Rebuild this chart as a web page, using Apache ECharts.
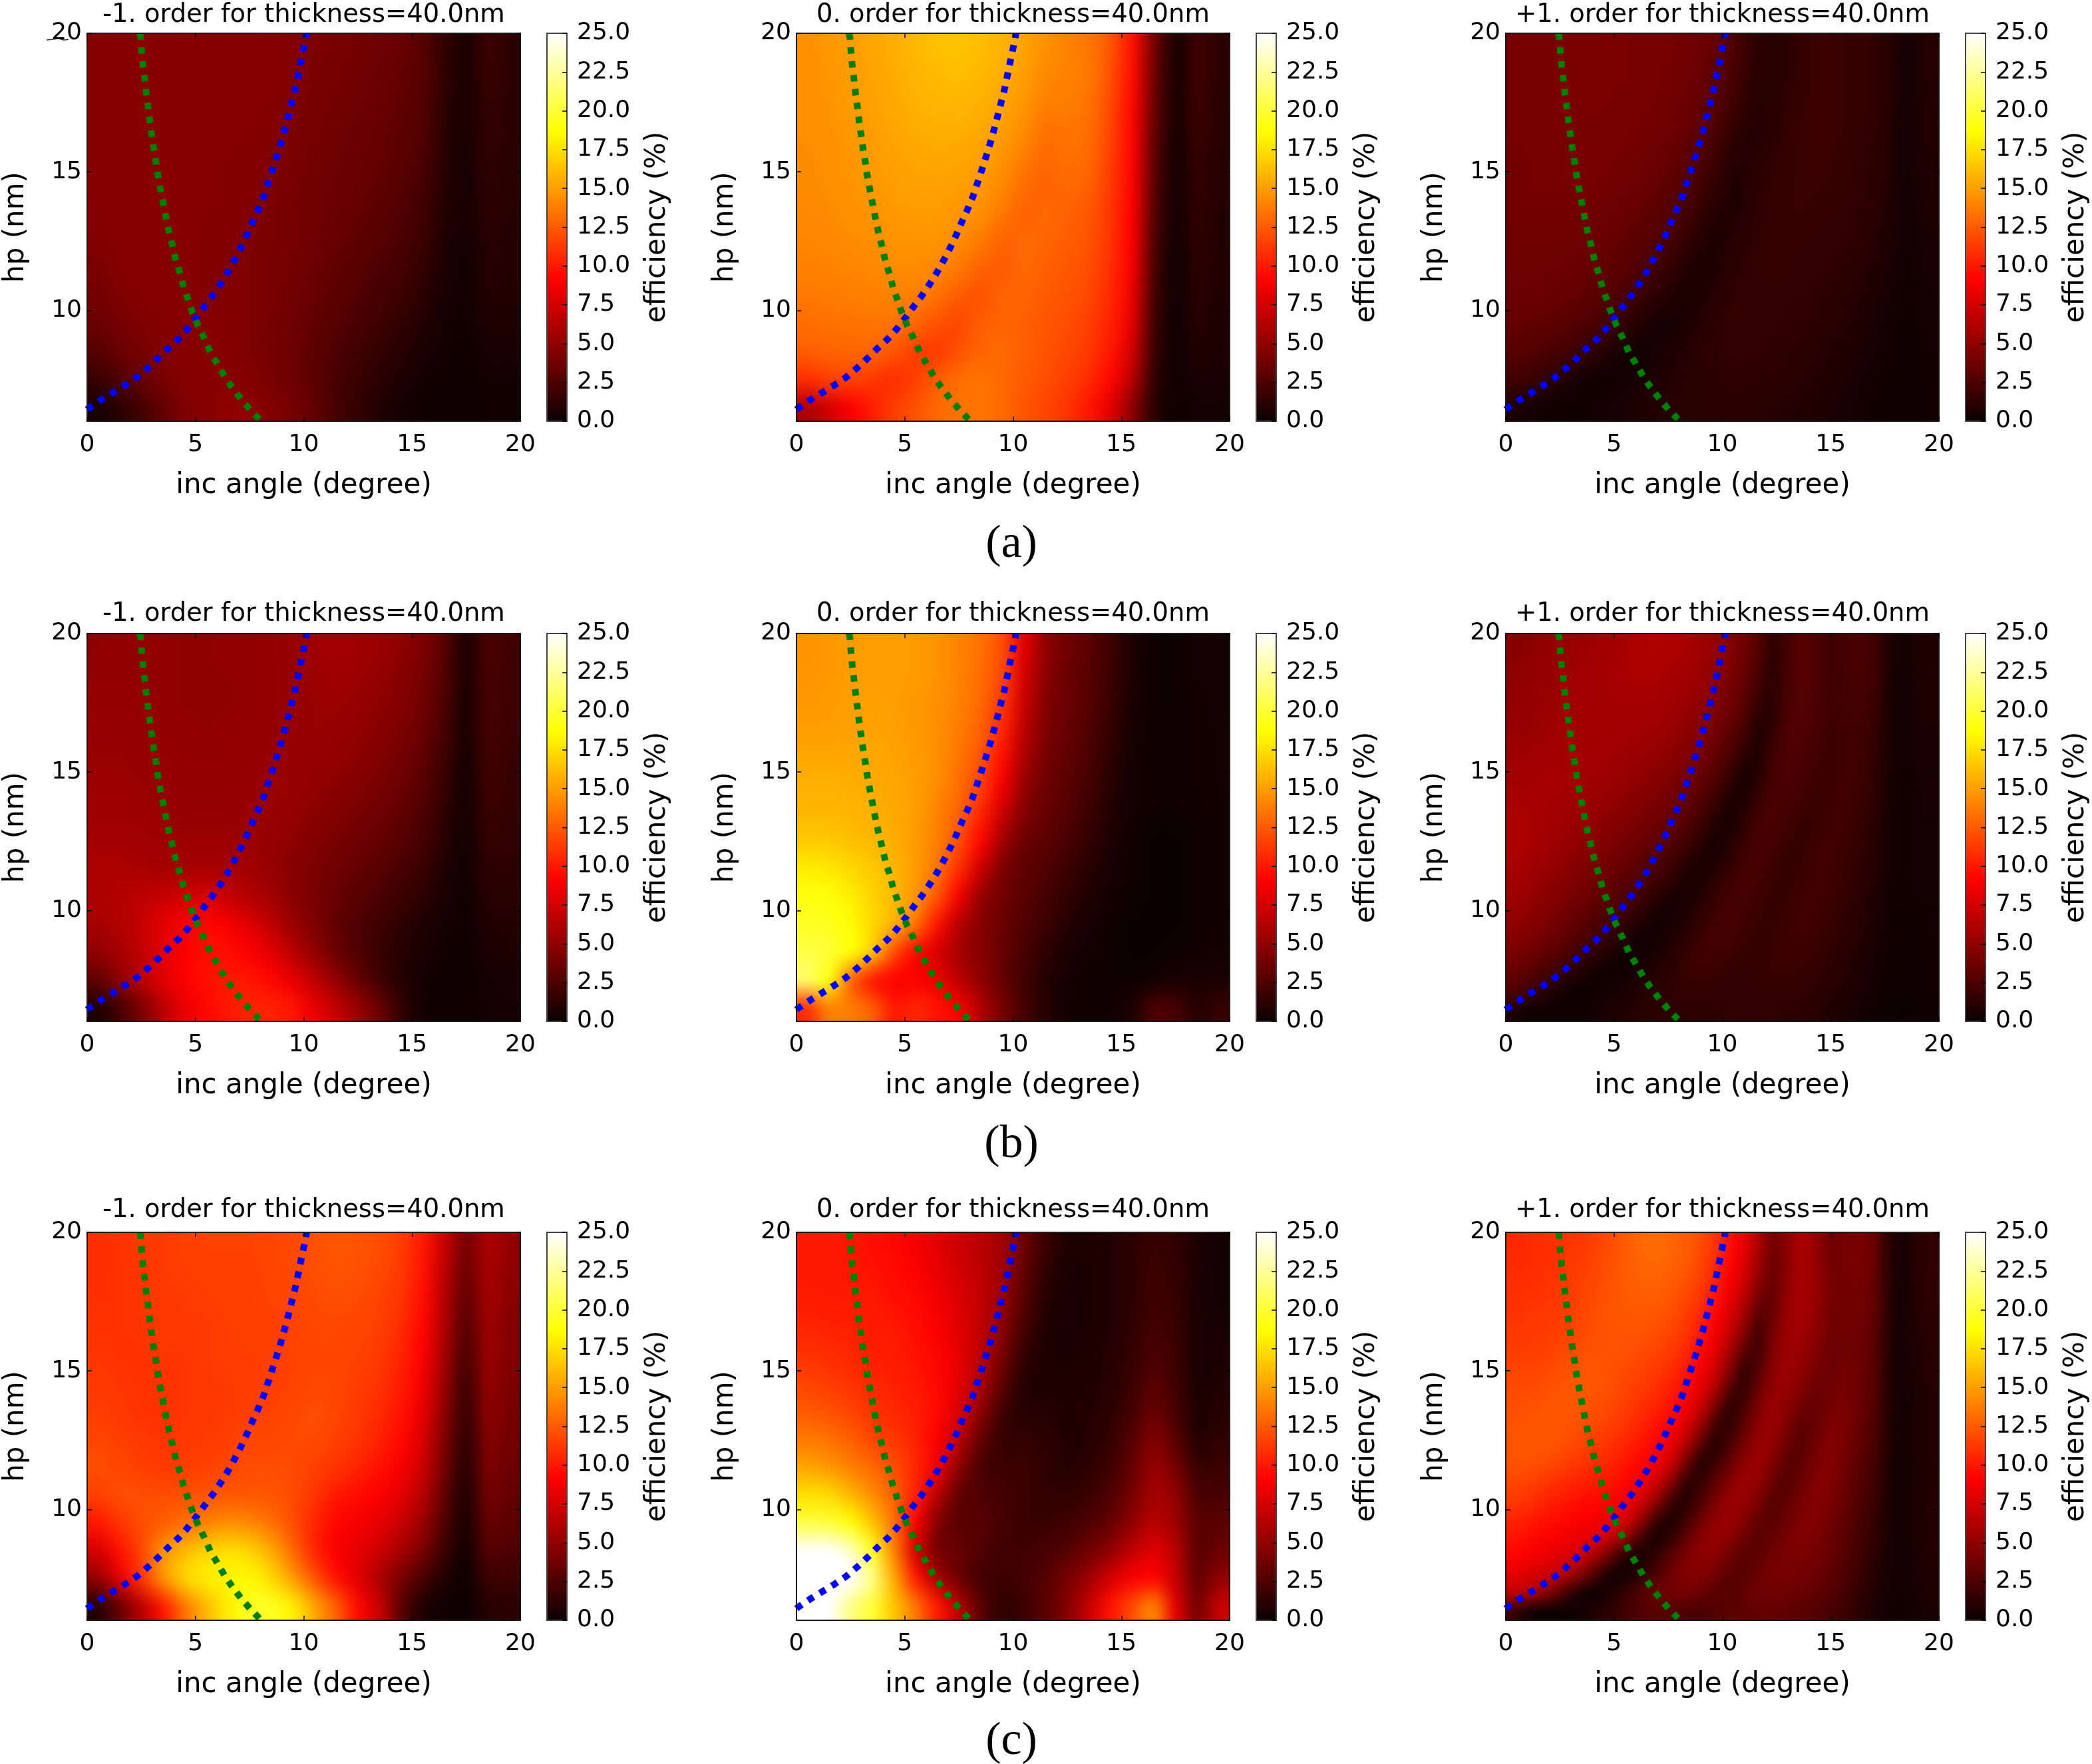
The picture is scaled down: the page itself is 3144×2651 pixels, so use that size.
<!DOCTYPE html>
<html><head><meta charset="utf-8">
<style>html,body{margin:0;padding:0;background:#fff}#c{width:3144px;height:2651px}</style>
<script src="https://cdn.jsdelivr.net/npm/echarts@6/dist/echarts.min.js"></script>
</head><body><div id="c"></div>
<script>
const angleCells=[0.5,1.5,2.5,3.5,4.5,5.5,6.5,7.5,8.5,9.5,10.5,11.5,12.5,13.5,14.5,15.5,16.5,17.5,18.5,19.5];
const hpCells=[19.5,18.5,17.5,16.5,15.5,14.5,13.5,12.5,11.5,10.5,9.5,8.5,7.5,6.5];
const fineAngleCells=[0.33,1,1.67,2.33,3,3.67,4.33,5,5.67,6.33,7,7.67,8.33,9,9.67,10.33,11,11.67,12.33,13,13.67,14.33,15,15.67,16.33,17,17.67,18.33,19,19.67];
const fineHpCells=[19.67,19,18.33,17.67,17,16.33,15.67,15,14.33,13.67,13,12.33,11.67,11,10.33,9.67,9,8.33,7.67,7,6.33];
const angleTicks=[0,5,10,15,20];
const hpTicks=[10,15,20];
const efficiencyTicks=[0,2.5,5,7.5,10,12.5,15,17.5,20,22.5,25];
const panelTitles=['-1. order for thickness=40.0nm','0. order for thickness=40.0nm','+1. order for thickness=40.0nm'];
const captions=['(a)','(b)','(c)'];
const blueAngle=[0,0.07,0.66,1.25,1.77,2.3,2.8,3.28,3.74,4.22,4.63,5.05,5.44,5.81,6.17,6.52,6.82,7.13,7.41,7.65,7.91,8.15,8.37,8.57,8.77,8.96,9.13,9.3,9.46,9.62,9.75,9.88,10.01,10.14];
const blueHp=[6.42,6.47,6.78,7.06,7.31,7.59,7.92,8.27,8.63,8.97,9.33,9.75,10.17,10.55,10.97,11.41,11.84,12.31,12.78,13.22,13.66,14.11,14.63,15.1,15.59,16.07,16.55,17.05,17.54,18.03,18.52,19.01,19.5,20];
const greenAngle=[2.43,2.47,2.52,2.58,2.66,2.73,2.82,2.9,2.99,3.08,3.19,3.28,3.4,3.52,3.65,3.79,3.95,4.1,4.28,4.46,4.67,4.88,5.13,5.42,5.68,6,6.34,6.69,7.1,7.52,7.97,8];
const greenHp=[20,19.84,19.32,18.8,18.32,17.82,17.3,16.79,16.29,15.8,15.3,14.8,14.3,13.83,13.32,12.8,12.31,11.8,11.35,10.83,10.36,9.89,9.42,8.97,8.5,8.08,7.62,7.22,6.8,6.42,6.05,6];

const minusA=[
[4.6,4.7,4.7,4.7,4.7,4.7,4.7,4.7,4.6,4.5,4.3,4.1,3.9,3.7,3.4,2.9,1.5,0.6,1.8,1.3],
[4.6,4.7,4.7,4.7,4.7,4.7,4.7,4.6,4.6,4.4,4.2,4.0,3.8,3.6,3.3,2.8,1.4,0.6,1.7,1.3],
[4.6,4.7,4.7,4.7,4.7,4.7,4.6,4.6,4.5,4.3,4.1,3.9,3.7,3.5,3.2,2.7,1.3,0.6,1.6,1.2],
[4.6,4.7,4.7,4.7,4.7,4.6,4.6,4.5,4.4,4.2,4.0,3.8,3.6,3.4,3.1,2.6,1.2,0.6,1.5,1.2],
[4.6,4.7,4.7,4.7,4.7,4.6,4.5,4.4,4.3,4.2,3.9,3.7,3.5,3.3,3.0,2.4,1.1,0.5,1.4,1.1],
[4.6,4.7,4.7,4.7,4.6,4.6,4.5,4.4,4.3,4.1,3.8,3.6,3.4,3.2,2.8,2.2,1.0,0.5,1.3,1.1],
[4.5,4.7,4.7,4.7,4.6,4.5,4.5,4.4,4.2,4.0,3.8,3.5,3.3,3.0,2.6,2.0,0.9,0.5,1.2,1.0],
[4.4,4.6,4.7,4.7,4.6,4.5,4.4,4.3,4.2,4.0,3.7,3.4,3.1,2.8,2.4,1.8,0.8,0.4,1.1,0.9],
[4.2,4.5,4.6,4.7,4.6,4.5,4.4,4.3,4.1,3.9,3.6,3.2,2.9,2.5,2.1,1.5,0.7,0.3,1.0,0.9],
[3.9,4.3,4.5,4.6,4.6,4.5,4.4,4.3,4.1,3.8,3.4,3.0,2.6,2.2,1.8,1.2,0.5,0.3,0.9,0.8],
[3.5,4.0,4.3,4.5,4.6,4.6,4.5,4.3,4.0,3.7,3.2,2.8,2.3,1.9,1.4,0.9,0.4,0.2,0.7,0.7],
[2.8,3.5,4.0,4.4,4.6,4.7,4.5,4.3,4.0,3.6,3.1,2.5,2.0,1.5,1.1,0.6,0.3,0.1,0.5,0.5],
[1.7,2.6,3.4,4.1,4.6,4.8,4.7,4.5,4.1,3.6,3.0,2.3,1.7,1.2,0.7,0.3,0.1,0.1,0.3,0.3],
[0.5,1.2,2.2,3.3,4.3,4.7,4.9,4.9,4.5,4.0,3.2,2.3,1.5,0.9,0.4,0.2,0.1,0.1,0.2,0.2]];
const zeroA=[
[14.5,14.8,15,15.3,15.6,16,16.3,16.4,16.2,15.8,15.2,14.5,14,13.5,12.3,9.8,4,0.6,1.9,1.2],
[14.5,14.7,15,15.2,15.5,15.9,16.1,16.2,16,15.6,15,14.2,14,13.6,12.1,9.6,3.8,0.6,1.9,1.2],
[14.4,14.6,14.9,15.1,15.4,15.7,15.9,15.9,15.7,15.3,14.7,13.9,13.8,13.4,11.9,9.4,3.6,0.5,1.8,1.1],
[14.4,14.5,14.8,15,15.3,15.5,15.6,15.6,15.4,15,14.3,13.4,13.5,13.2,11.7,9.3,3.4,0.5,1.7,1.1],
[14.3,14.5,14.7,14.9,15.1,15.3,15.4,15.3,15.1,14.6,13.8,13,13.3,13,11.5,9.2,3.2,0.4,1.6,1],
[14.3,14.4,14.6,14.8,15,15.1,15.1,15,14.8,14.2,13.2,12.8,13,12.7,11.3,9.1,3,0.4,1.5,1],
[14.2,14.3,14.5,14.6,14.8,14.9,14.9,14.7,14.4,13.6,12.8,13,12.8,12.4,11.1,9,2.8,0.4,1.4,0.9],
[14.1,14.2,14.3,14.4,14.6,14.6,14.6,14.3,13.7,12.8,13,12.9,12.6,12.2,11,8.9,2.6,0.3,1.3,0.9],
[13.9,14,14.1,14.2,14.3,14.3,14.1,13.6,12.7,12.6,13,12.7,12.4,12,10.8,8.7,2.4,0.3,1.2,0.8],
[13.6,13.7,13.8,13.9,14,13.8,13.3,12.5,12.2,12.8,12.9,12.5,12.2,11.8,10.6,8.4,2.2,0.3,1.1,0.8],
[13.2,13.3,13.4,13.5,13.4,12.9,12.1,11.8,12.6,12.9,12.7,12.3,12,11.5,10.3,8,2,0.2,1,0.7],
[12.6,12.8,12.9,12.8,12.3,11.5,11.3,12.2,12.9,13,12.7,12.2,11.8,11.2,9.9,7.4,1.8,0.2,0.8,0.6],
[10.8,11.4,11.6,11.2,10.8,11.5,12.6,13.2,13.4,13,12.5,12,11.5,10.7,9.3,6.4,1.5,0.2,0.6,0.5],
[6,7.5,9,10.2,11.4,12.2,13,13.4,13.5,13,12.3,11.7,11,9.9,8,4.8,1.2,0.1,0.4,0.4]];
const plusA=[
[4,4.1,4.2,4.2,4.2,4.2,4.1,4,3.8,3.4,2.5,1.3,1,1.5,1.8,1.7,1.6,1.2,0.4,1],
[4,4.1,4.2,4.2,4.2,4.2,4.1,3.9,3.7,3.2,2.3,1.2,1,1.5,1.8,1.7,1.6,1.2,0.4,1],
[4,4.1,4.2,4.2,4.2,4.1,4,3.8,3.5,3,1.9,1,1.2,1.6,1.8,1.7,1.6,1.2,0.4,0.9],
[4,4.1,4.1,4.1,4.1,4,3.9,3.7,3.3,2.6,1.5,0.9,1.3,1.7,1.8,1.7,1.5,1.1,0.4,0.9],
[3.9,4,4.1,4.1,4,3.9,3.7,3.4,2.9,2.1,1.1,1,1.5,1.7,1.8,1.6,1.5,1,0.4,0.8],
[3.9,4,4,4,3.9,3.7,3.5,3.1,2.5,1.6,0.8,1.2,1.6,1.7,1.7,1.6,1.4,1,0.3,0.8],
[3.9,3.9,3.9,3.8,3.7,3.5,3.2,2.7,2,1.1,0.8,1.3,1.6,1.7,1.6,1.5,1.3,0.9,0.3,0.7],
[3.8,3.8,3.8,3.7,3.5,3.2,2.8,2.3,1.4,0.7,1,1.4,1.6,1.6,1.5,1.4,1.2,0.8,0.3,0.6],
[3.7,3.7,3.6,3.5,3.2,2.9,2.3,1.6,0.8,0.7,1.2,1.5,1.6,1.5,1.4,1.3,1,0.7,0.2,0.5],
[3.6,3.5,3.4,3.2,2.8,2.3,1.6,0.9,0.6,1,1.4,1.5,1.5,1.4,1.3,1.1,0.9,0.5,0.2,0.4],
[3.3,3.2,3,2.6,2.1,1.4,0.7,0.4,0.8,1.2,1.4,1.5,1.4,1.3,1.2,1,0.7,0.4,0.1,0.4],
[2.9,2.6,2.2,1.7,1,0.4,0.3,0.7,1,1.3,1.4,1.4,1.3,1.2,1,0.8,0.6,0.3,0.1,0.3],
[2,1.6,1,0.4,0.2,0.3,0.6,0.9,1.1,1.2,1.3,1.3,1.2,1.1,0.9,0.7,0.4,0.2,0.1,0.2],
[0.6,0.3,0.1,0.2,0.4,0.6,0.8,1,1.1,1.2,1.2,1.1,1,0.9,0.7,0.5,0.3,0.1,0.1,0.2]];
const minusB=[
[4.9,5,5,5,4.9,4.9,5,5,5.1,5.3,5.5,5.6,5.5,5.3,4.9,4.2,2.9,0.7,2.4,2],
[5,5,5,5,4.9,4.9,4.9,5,5.1,5.2,5.4,5.5,5.4,5.1,4.7,4,2.7,0.7,2.3,1.9],
[5.1,5.1,5.1,5,4.9,4.9,4.9,5,5.1,5.2,5.3,5.4,5.2,4.9,4.5,3.8,2.5,0.6,2.2,1.9],
[5.2,5.2,5.1,5,5,4.9,5,5,5.1,5.2,5.3,5.2,5,4.7,4.2,3.5,2.2,0.6,2.1,1.8],
[5.3,5.3,5.2,5.1,5,5,5,5.1,5.2,5.2,5.2,5,4.8,4.4,3.9,3.2,1.9,0.5,2,1.7],
[5.4,5.4,5.3,5.2,5.1,5.1,5.1,5.2,5.3,5.3,5,4.8,4.5,4.1,3.6,2.9,1.6,0.4,1.9,1.6],
[5.5,5.5,5.4,5.3,5.2,5.2,5.2,5.3,5.3,5.1,4.8,4.5,4.1,3.7,3.2,2.5,1.3,0.4,1.7,1.5],
[5.7,5.7,5.6,5.5,5.4,5.4,5.4,5.4,5.2,4.9,4.5,4.1,3.7,3.3,2.8,2.1,1.1,0.3,1.5,1.4],
[6,6,5.9,5.8,5.8,5.9,5.8,5.6,5.2,4.7,4.2,3.7,3.3,2.9,2.3,1.7,0.8,0.3,1.3,1.2],
[6,6.3,6.6,7,7.4,7.6,7,6.3,5.6,4.8,4.1,3.4,2.9,2.4,1.8,1.2,0.6,0.2,1.1,1.1],
[5.8,6.2,7,8.1,8.9,9.3,8.8,7.9,6.7,5.3,4.3,3.3,2.5,1.9,1.3,0.8,0.4,0.2,0.8,0.9],
[5,5.8,6.8,8,9,9.6,9.6,9,8,6.5,5,3.6,2.6,1.7,1,0.6,0.2,0.1,0.6,0.7],
[3.2,4.8,6.5,8,9,9.7,10,9.9,9.3,8.2,6.6,5,3.4,2,1,0.4,0.1,0.1,0.4,0.5],
[0.8,2.2,4.2,6.5,8.3,9.3,10,10.4,10.4,9.8,8.3,6.8,5.3,3.5,1.5,0.3,0.1,0.1,0.3,0.4]];
const zeroB=[
[14.6,14.8,14.9,15,15,14.9,14.6,14,13.3,12,8,5,3.8,3,1.9,0.7,0.1,0.1,0.3,0.4],
[14.7,14.8,15,15,15,14.9,14.6,14,13.2,11.7,7.6,4.8,3.6,2.9,1.8,0.7,0.1,0.1,0.3,0.4],
[14.8,14.9,15,15.1,15,14.8,14.5,13.9,13,11.2,7.2,4.5,3.5,2.8,1.7,0.6,0.1,0.1,0.2,0.4],
[15,15,15.1,15.2,15.1,14.8,14.4,13.7,12.7,10.5,6.6,4.3,3.4,2.6,1.5,0.5,0.1,0.1,0.2,0.3],
[15.4,15.4,15.4,15.3,15.2,14.9,14.4,13.5,12.2,9.6,6,4,3.2,2.4,1.3,0.4,0.1,0.1,0.2,0.3],
[15.7,15.7,15.6,15.5,15.3,15,14.3,13.2,11.5,8.6,5.2,3.7,3,2.1,1.1,0.3,0.1,0.1,0.2,0.3],
[16,16,15.9,15.7,15.4,15,14,12.7,10.5,7.2,4.4,3.4,2.7,1.8,0.9,0.3,0.1,0.1,0.1,0.2],
[16.7,16.6,16.3,16,15.6,14.9,13.8,12,9.3,5.6,3.6,3.1,2.3,1.5,0.7,0.2,0,0,0.1,0.2],
[18,17.8,17.2,16.6,15.9,14.9,13.4,10.8,7.2,4.2,3.2,2.6,1.8,1.1,0.5,0.1,0,0,0.1,0.2],
[19,18.8,18.1,17,16,14.6,12.3,8.8,5.2,3.8,3,2.2,1.4,0.8,0.3,0.1,0,0,0.1,0.2],
[19.6,19.4,18.6,17.2,15.7,13.4,9.8,6.4,4.6,3.6,2.6,1.8,1,0.5,0.2,0,0,0,0.1,0.2],
[20.4,20,18.8,16.5,12,9.5,7.6,5.8,4.6,3.4,2.3,1.3,0.6,0.3,0.1,0,0,0.1,0.2,0.3],
[21.3,19,13,10,9.2,9,8.4,6.6,5,3.4,2,1,0.4,0.1,0.1,0.1,0.3,0.6,0.6,0.6],
[11,14,13.7,12.6,10,10.5,9.8,8.8,6.2,4,2.2,1,0.3,0.1,0.2,0.7,2.4,2.2,1,1.6]];
const plusB=[
[4.7,4.8,5,5.1,5.3,5.4,5.6,5.7,5.9,6,6.1,6,5.9,5.6,5.2,4.6,3.8,2.8,1.4,2.1,2.8,2.6,2,2.2,2.4,2,0.9,0.3,0.7,0.8],
[4.8,4.9,5.1,5.2,5.4,5.5,5.7,5.8,5.9,6,6,5.9,5.8,5.5,5,4.4,3.6,2.6,1.3,2.1,2.8,2.6,2,2.2,2.4,2,0.9,0.3,0.7,0.8],
[4.9,5,5.2,5.3,5.5,5.6,5.7,5.8,5.9,5.9,5.9,5.8,5.6,5.3,4.8,4.2,3.4,2.2,1.2,2.2,2.8,2.6,2,2.1,2.3,1.9,0.8,0.3,0.6,0.8],
[5,5.1,5.3,5.4,5.5,5.6,5.7,5.8,5.8,5.8,5.8,5.6,5.4,5,4.5,3.9,3,1.8,1.3,2.3,2.7,2.5,2,2.1,2.2,1.8,0.8,0.3,0.6,0.7],
[5.1,5.2,5.3,5.5,5.6,5.7,5.7,5.7,5.7,5.7,5.6,5.4,5.1,4.7,4.2,3.5,2.6,1.3,1.3,2.4,2.7,2.4,1.9,2,2.1,1.7,0.7,0.3,0.6,0.7],
[5.3,5.3,5.4,5.6,5.7,5.7,5.7,5.7,5.6,5.5,5.4,5.2,4.8,4.4,3.8,3,2,0.9,1.6,2.5,2.6,2.3,1.8,2,2,1.6,0.7,0.3,0.5,0.6],
[5.4,5.5,5.6,5.7,5.7,5.7,5.6,5.5,5.4,5.3,5.1,4.8,4.5,4,3.3,2.5,1.4,0.8,1.9,2.5,2.5,2.1,1.8,2,1.9,1.5,0.7,0.3,0.5,0.6],
[5.6,5.7,5.8,5.8,5.7,5.6,5.5,5.4,5.2,5,4.8,4.4,4,3.5,2.8,1.8,0.7,1,2.1,2.5,2.3,1.9,1.8,2,1.9,1.4,0.6,0.2,0.5,0.5],
[5.8,5.8,5.8,5.8,5.7,5.5,5.4,5.2,5,4.7,4.4,4,3.6,3,2.2,1.1,0.6,1.5,2.3,2.4,2.1,1.7,1.8,2,1.8,1.4,0.6,0.2,0.4,0.5],
[5.9,5.9,5.8,5.7,5.5,5.3,5.1,4.9,4.6,4.3,4,3.6,3.1,2.4,1.5,0.6,1,1.9,2.4,2.2,1.8,1.7,1.9,2,1.7,1.3,0.6,0.2,0.4,0.5],
[6,5.9,5.8,5.6,5.3,5.1,4.8,4.5,4.2,3.9,3.5,3.1,2.6,1.8,0.9,0.6,1.4,2.2,2.3,2,1.6,1.7,1.9,1.9,1.6,1.2,0.5,0.2,0.4,0.4],
[6,5.9,5.7,5.4,5.1,4.8,4.5,4.2,3.8,3.4,3,2.6,1.9,1.1,0.5,1,1.8,2.3,2.2,1.7,1.6,1.9,2,1.8,1.5,1.1,0.5,0.2,0.4,0.4],
[5.9,5.7,5.4,5.1,4.8,4.4,4.1,3.7,3.3,2.9,2.5,1.9,1.1,0.6,0.8,1.5,2.1,2.3,1.9,1.5,1.7,2,2,1.7,1.4,1,0.5,0.2,0.3,0.4],
[5.7,5.5,5.1,4.8,4.4,4,3.6,3.2,2.8,2.4,1.8,1.2,0.6,0.7,1.3,1.9,2.3,2.1,1.7,1.6,1.8,2,1.9,1.6,1.3,0.9,0.4,0.2,0.3,0.3],
[5.4,5.2,4.8,4.4,4,3.6,3.1,2.7,2.3,1.7,1,0.5,0.6,1.1,1.7,2.2,2.2,1.9,1.6,1.7,2,2,1.8,1.5,1.2,0.8,0.4,0.2,0.3,0.3],
[5.1,4.8,4.4,4,3.5,3,2.5,2.1,1.5,0.9,0.4,0.5,0.9,1.5,2,2.3,2,1.7,1.6,1.8,2,1.9,1.7,1.4,1.1,0.7,0.3,0.1,0.2,0.3],
[4.6,4.3,3.9,3.4,2.9,2.4,1.9,1.3,0.7,0.3,0.4,0.8,1.3,1.8,2.2,2.1,1.8,1.6,1.7,1.9,1.9,1.8,1.5,1.3,1,0.6,0.3,0.1,0.2,0.3],
[4.1,3.7,3.2,2.7,2.1,1.5,1,0.5,0.2,0.4,0.7,1.1,1.6,2,2,1.8,1.6,1.6,1.7,1.8,1.8,1.6,1.4,1.1,0.8,0.5,0.2,0.1,0.2,0.2],
[3.3,2.9,2.3,1.7,1.1,0.6,0.2,0.2,0.4,0.7,1,1.3,1.7,1.8,1.7,1.5,1.5,1.6,1.7,1.7,1.6,1.5,1.2,1,0.7,0.4,0.2,0.1,0.1,0.2],
[2.4,1.8,1.2,0.6,0.2,0.1,0.2,0.5,0.7,1,1.2,1.4,1.5,1.5,1.4,1.4,1.5,1.5,1.5,1.5,1.4,1.3,1,0.8,0.6,0.3,0.1,0.1,0.1,0.2],
[0.7,0.2,0.1,0.1,0.1,0.2,0.5,0.7,0.9,1.1,1.2,1.3,1.3,1.3,1.3,1.4,1.4,1.4,1.4,1.3,1.2,1,0.8,0.6,0.4,0.2,0.1,0,0.1,0.1]];
const minusC=[
[10.8,11,11.2,11.3,11.5,11.6,11.6,11.6,11.7,11.9,12.1,12.3,12.2,12,11.4,10,7,4,6,5],
[10.8,11,11.1,11.3,11.4,11.5,11.5,11.5,11.7,11.8,12,12.2,12.1,11.8,11.2,9.8,6.6,3.6,5.8,4.9],
[10.9,11,11.1,11.2,11.3,11.4,11.5,11.5,11.6,11.7,11.9,12,11.9,11.6,11,9.6,6.3,3.2,5.6,4.7],
[11,11,11.1,11.2,11.2,11.3,11.4,11.5,11.5,11.6,11.8,11.8,11.7,11.5,10.7,9.3,6,2.8,5.4,4.5],
[11.1,11,11,11.1,11.1,11.3,11.4,11.4,11.5,11.6,11.7,11.7,11.6,11.2,10.4,9,5.6,2.4,5.2,4.4],
[11.2,11.1,11,11,11.1,11.2,11.3,11.4,11.5,11.6,11.8,11.7,11.4,11,10.1,8.6,5.2,2,5,4.2],
[11.4,11.2,11,11,11.1,11.2,11.3,11.5,11.6,11.8,12,11.7,11.2,10.7,9.8,8.2,4.8,1.7,4.8,4],
[11.7,11.5,11.2,11.1,11.2,11.3,11.5,11.7,11.8,11.9,11.9,11.5,11,10.3,9.4,7.7,4.3,1.4,4.5,3.8],
[12,11.8,11.5,11.3,11.4,11.6,11.8,12,12,11.9,11.5,11,10.4,9.7,8.8,7.1,3.8,1.1,4.2,3.6],
[11.5,12,12,12,12.1,12.3,12.4,12.4,12.3,11.9,11,10,9.5,9,8,6.3,3.2,0.8,3.8,3.3],
[10,11,12,12.6,13.3,14,14.5,14.2,13.4,12,10.5,9.3,8.8,8.2,7,5.3,2.5,0.6,3.3,3],
[7.5,9.8,11.7,14.5,16,17,17.5,17,15.5,13,10.5,9,8.2,7.2,5.7,4,1.8,0.3,2.7,2.5],
[5,8,11,14.5,17,18,18.2,18.5,17.3,15,12.3,9.8,8,6,4,2.3,0.8,0.1,1.8,1.8],
[1,3.5,6.5,10,13.5,16,18,19.5,19.5,18,15.3,12.6,9.5,7,3,0.8,0.2,0.1,1,1.2]];
const zeroC=[
[10,10,9.9,9.6,9.3,8.8,8,7.2,6.5,5.6,3.6,1.8,0.7,0.7,0.9,1.3,1.7,1.4,0.7,0.4],
[10,10,10,9.8,9.5,9.1,8.4,7.5,6.7,5.5,3.2,1.4,0.6,0.6,0.9,1.3,1.8,1.5,0.6,0.4],
[10.2,10.1,10.1,10,9.7,9.4,8.7,7.8,6.8,5.2,2.8,1,0.5,0.6,0.9,1.3,1.9,1.6,0.6,0.4],
[10.5,10.4,10.3,10.1,10,9.6,9,8,6.8,4.7,2.2,0.8,0.5,0.6,0.9,1.4,2.1,1.7,0.6,0.5],
[11,10.8,10.6,10.3,10.1,9.8,9.2,8.2,6.5,4,1.5,0.7,0.6,0.7,1,1.6,2.4,1.8,0.6,0.6],
[11.7,11.4,11,10.6,10.3,10,9.4,8.1,6,3,1,0.7,0.7,0.8,1.1,1.8,2.9,2,0.6,0.8],
[12.5,12.2,11.7,11,10.6,10.2,9.4,7.6,4.8,2,1,1,0.8,0.9,1.3,2.2,3.5,2.3,0.7,1],
[13.7,13.4,12.7,11.8,11.2,10.3,9,6.6,3.3,1.6,1.5,1.3,0.8,1,1.6,2.8,4.4,3,1,1.4],
[15.3,14.8,14,13,12,10.6,8.5,4.8,2.4,1.8,1.8,1.3,1,1.3,2,3.4,5.2,4,1.7,1.8],
[17.5,17.3,16,14.4,12.8,10.2,6.5,3.2,2.6,2.2,1.8,1.5,1.4,1.8,2.6,4,5.8,5,2.5,2.3],
[20.5,20.2,19,16.5,13.3,9,4.4,3,2.8,2.2,1.7,1.7,2,2.6,3.4,5,6.5,5.5,3,3],
[25,25,23.5,19.6,14,7.5,4,3.4,2.6,2,1.9,2.3,2.8,3.8,5,6.8,8,6.5,3,3.6],
[25,25,25,22,15.5,10.2,6,3.6,2.2,1.8,2.2,2.8,4,5.5,7.5,9,9.3,7,3.3,5],
[25,25,22,20,16.5,13.5,10,6.5,3,1.4,1.8,3,4.5,7,9.8,12,14,8,4,7]];
const plusC=[
[10.6,10.7,10.8,10.9,11.1,11.3,11.7,12.1,12.6,13,13.1,12.9,12.6,12,11.1,9.7,8.2,6,3.9,4.8,6,5.1,3.9,4,4.1,3.5,1.3,0.5,1.1,1.5],
[10.7,10.7,10.8,11,11.2,11.4,11.8,12.2,12.6,12.9,13,12.8,12.5,11.8,10.8,9.4,7.9,5.6,3.7,4.7,5.9,5.1,3.9,4,4.1,3.5,1.3,0.5,1.1,1.5],
[10.8,10.8,10.9,11.1,11.3,11.6,11.9,12.3,12.6,12.8,12.8,12.6,12.2,11.5,10.4,9,7.4,5,3.5,4.9,5.9,5.2,4,3.9,4,3.4,1.3,0.5,1,1.4],
[10.9,11,11,11.2,11.4,11.7,12,12.3,12.5,12.6,12.6,12.3,11.8,11,9.9,8.4,6.6,4,3.4,5.1,5.8,5.2,4.1,3.8,3.9,3.3,1.2,0.4,1,1.4],
[11,11.1,11.2,11.3,11.5,11.8,12.1,12.3,12.4,12.4,12.3,12,11.4,10.5,9.3,7.7,5.6,3,3.6,5.3,5.7,5,3.9,3.8,3.8,3.2,1.2,0.4,0.9,1.3],
[11.2,11.2,11.3,11.5,11.7,11.9,12.1,12.2,12.2,12.2,12,11.6,11,10,8.7,6.9,4.4,2.2,4,5.4,5.5,4.8,3.8,3.8,3.7,3.1,1.1,0.4,0.9,1.2],
[11.4,11.4,11.5,11.7,11.9,12.1,12.2,12.2,12.1,11.9,11.6,11.2,10.5,9.4,8,5.8,3,2.2,4.4,5.4,5.2,4.4,3.6,3.8,3.6,3,1.1,0.4,0.8,1.1],
[11.7,11.7,11.8,12,12.2,12.3,12.3,12.1,11.8,11.6,11.2,10.7,10,8.8,7.2,4.5,1.7,2.8,4.8,5.4,4.9,4,3.6,4,3.6,2.9,1,0.4,0.8,1.1],
[11.9,11.9,12,12.2,12.4,12.4,12.2,12,11.6,11.2,10.8,10.2,9.4,8,6,2.8,1.6,3.6,5,5.2,4.4,3.6,3.8,4.1,3.5,2.8,1,0.4,0.7,1],
[12,12.1,12.2,12.4,12.4,12.2,12,11.7,11.3,10.8,10.3,9.7,8.6,7,4,1.4,2.4,4.3,5.3,4.8,3.7,3.4,4,4.2,3.5,2.7,1,0.3,0.7,1],
[12.2,12.3,12.4,12.4,12.2,12,11.7,11.3,10.9,10.3,9.7,9,7.6,5.2,2.1,1.5,3.2,4.8,5.3,4.2,3.1,3.5,4.3,4.2,3.4,2.6,0.9,0.3,0.7,1],
[12.3,12.4,12.4,12.2,11.9,11.6,11.2,10.8,10.4,9.8,9.2,8.2,6.2,3,1.1,2.3,4,5.2,5,3.6,3,3.8,4.5,4,3.2,2.4,0.9,0.3,0.7,1],
[12.2,12.2,12,11.7,11.3,11,10.7,10.4,9.8,9.2,8.5,7,3.8,1.2,1.8,3.4,4.9,5.3,4.4,3,3.2,4.2,4.5,3.8,3,2.2,0.8,0.3,0.7,0.9],
[11.8,11.6,11.3,10.9,10.6,10.3,10.1,9.8,9.2,8.5,7.2,4.7,1.6,1.6,3,4.5,5.4,5,3.5,2.8,3.6,4.4,4.4,3.6,2.8,2,0.8,0.3,0.7,0.9],
[11.3,11,10.6,10.2,9.9,9.6,9.4,9.1,8.5,7.3,5,2,1,2.5,4.1,5.2,5.2,4.2,3,3.2,4,4.5,4.2,3.4,2.6,1.8,0.7,0.3,0.7,1],
[10.6,10.2,9.9,9.6,9.3,9,8.7,8.3,7.3,5,2,0.8,1.9,3.6,4.9,5.3,4.6,3.4,3,3.6,4.3,4.4,3.9,3.2,2.4,1.6,0.7,0.3,0.7,1],
[9.9,9.6,9.2,8.9,8.6,8.2,7.7,6.6,4.5,1.9,0.6,1.5,3.2,4.6,5.2,4.8,3.7,3,3.4,4,4.4,4.2,3.6,3,2.2,1.5,0.6,0.3,0.7,1],
[9.2,8.9,8.5,8.1,7.6,6.8,5.2,2.8,0.9,0.6,1.6,3,4.2,4.9,4.7,3.8,3,3.2,3.8,4.2,4.2,3.9,3.4,2.8,2,1.3,0.6,0.3,0.6,0.9],
[8.2,7.8,7.4,6.8,5.8,4,1.8,0.4,0.5,1.4,2.6,3.7,4.4,4.5,3.9,3,3,3.5,4,4.1,3.9,3.6,3.1,2.5,1.8,1.1,0.5,0.3,0.6,0.8],
[6.8,6.2,5.2,3.6,1.7,0.4,0.3,0.9,1.8,2.8,3.5,3.9,4,3.5,2.9,2.8,3.3,3.7,3.8,3.7,3.5,3.2,2.8,2.2,1.5,0.9,0.4,0.3,0.5,0.8],
[1.8,0.7,0.2,0.1,0.2,0.5,1,1.5,2.2,2.7,2.9,2.8,2.5,2.4,2.7,3,3.2,3.3,3.3,3.2,3,2.7,2.3,1.8,1.2,0.7,0.3,0.2,0.4,0.6]];
const panels=[minusA,zeroA,plusA,minusB,zeroB,plusB,minusC,zeroC,plusC];
const finePanels=[plusB,plusC];

/* layout and style */
const FONT='"DejaVu Sans"';
const colLeft=[131,1197,2263], rowTop=[50,952,1852];
const PW=651, PH=583, BARGAP=40, BARW=30;
const titleTop=[3,903,1799], captionCenterY=[820,1722,2619];
const hot=[];
for(let k=0;k<=64;k++){const t=k/64;
  const c=v=>Math.round(255*Math.min(1,Math.max(0,v)));
  hot.push(`rgb(${c(0.0416+t/0.365*0.9584)},${c((t-0.365)/0.381)},${c((t-0.746)/0.254)})`);}

function smoothField(xs,ys){
  const nc=xs.length,nr=ys.length;
  const tex=document.createElement('canvas');tex.width=nc;tex.height=nr;
  const ctx=tex.getContext('2d');
  const dx=(xs[1]-xs[0])/2,dy=(ys[0]-ys[1])/2;
  return function(params,api){
    const c=xs.indexOf(api.value(0)),r=ys.indexOf(api.value(1));
    ctx.fillStyle=api.visual('color');ctx.fillRect(c,r,1,1);
    if(params.dataIndexInside!==params.dataInsideLength-1)return null;
    const a=api.coord([xs[0]-dx,ys[0]+dy]);
    const b=api.coord([xs[nc-1]+dx,ys[nr-1]-dy]);
    const w=Math.round(b[0]-a[0]),h=Math.round(b[1]-a[1]);
    const big=document.createElement('canvas');big.width=w;big.height=h;
    const g=big.getContext('2d');g.imageSmoothingEnabled=true;g.imageSmoothingQuality='high';
    g.drawImage(tex,0,0,w,h);
    return {type:'image',silent:true,style:{image:big,x:a[0],y:a[1],width:w,height:h}};
  };
}
const txt={fontFamily:FONT,fontSize:36,color:'#000'};
const nameTxt={fontFamily:FONT,fontSize:42,color:'#000'};
const frame={show:true,onZero:false,lineStyle:{color:'#1a1a1a',width:2}};
function tick(values){return {show:true,inside:true,length:7,lineStyle:{color:'#000',width:1.5},customValues:values};}
function baseAxis(extra){return Object.assign({type:'value',z:10,splitLine:{show:false},axisLine:frame},extra);}

const grid=[],xAxis=[],yAxis=[],series=[],visualMap=[],title=[];
panels.forEach((cells,p)=>{
  const col=p%3,row=Math.floor(p/3);
  const L=colLeft[col],T=rowTop[row],bar=L+PW+BARGAP;
  const fine=finePanels.includes(cells);
  const xs=fine?fineAngleCells:angleCells, ys=fine?fineHpCells:hpCells;
  const gi=grid.length;
  grid.push({left:L,top:T,width:PW,height:PH});
  const xi=xAxis.length,yi=yAxis.length;
  xAxis.push(baseAxis({gridIndex:gi,position:'bottom',min:0,max:20,axisTick:tick(angleTicks),
    axisLabel:Object.assign({},txt,{margin:18,customValues:angleTicks,showMinLabel:true,showMaxLabel:true}),
    name:'inc angle (degree)',nameLocation:'middle',nameGap:76,nameTextStyle:nameTxt}));
  xAxis.push(baseAxis({gridIndex:gi,position:'top',min:0,max:20,axisTick:tick(angleTicks),axisLabel:{show:false}}));
  yAxis.push(baseAxis({gridIndex:gi,position:'left',min:6,max:20,axisTick:tick(hpTicks),
    axisLabel:Object.assign({},txt,{margin:8,customValues:hpTicks,padding:[0,0,6,0]}),
    name:'hp (nm)',nameLocation:'middle',nameGap:86,nameRotate:90,nameTextStyle:nameTxt}));
  yAxis.push(baseAxis({gridIndex:gi,position:'right',min:6,max:20,axisTick:tick(hpTicks),axisLabel:{show:false}}));
  const data=[];
  cells.forEach((rowVals,r)=>rowVals.forEach((v,c)=>data.push([xs[c],ys[r],v])));
  const si=series.length;
  series.push({type:'custom',xAxisIndex:xi,yAxisIndex:yi,data,encode:{x:0,y:1},dimensions:['angle','hp','efficiency'],
    renderItem:smoothField(xs,ys),silent:true,z:1,clip:true});
  const curve=(cx,cy,color)=>({type:'line',xAxisIndex:xi,yAxisIndex:yi,showSymbol:false,symbol:'none',silent:true,z:3,
    data:cx.map((a,i)=>[a,cy[i]]),lineStyle:{color,width:10,type:[10,11],cap:'butt'}});
  series.push(curve(blueAngle,blueHp,'#0000ff'));
  series.push(curve(greenAngle,greenHp,'#008000'));
  visualMap.push({type:'continuous',seriesIndex:si,dimension:2,min:0,max:25,left:bar,top:T,itemWidth:BARW,itemHeight:PH,
    padding:0,calculable:false,showLabel:false,hoverLink:false,text:null,inRange:{color:hot},outOfRange:{color:hot}});
  const gb=grid.length;
  const barLine={show:true,onZero:false,lineStyle:{color:'#444',width:2}};
  grid.push({left:bar,top:T,width:BARW,height:PH});
  xAxis.push(baseAxis({gridIndex:gb,position:'bottom',min:0,max:1,axisTick:{show:false},axisLabel:{show:false},axisLine:barLine}));
  xAxis.push(baseAxis({gridIndex:gb,position:'top',min:0,max:1,axisTick:{show:false},axisLabel:{show:false},axisLine:barLine}));
  yAxis.push(baseAxis({gridIndex:gb,position:'left',min:0,max:25,axisTick:{show:false},axisLabel:{show:false},axisLine:barLine}));
  yAxis.push(baseAxis({gridIndex:gb,position:'right',min:0,max:25,axisTick:tick(efficiencyTicks),axisLine:barLine,
    axisLabel:Object.assign({},txt,{margin:15,customValues:efficiencyTicks,padding:[0,0,6,0],formatter:v=>Number(v).toFixed(1)}),
    name:'efficiency (%)',nameLocation:'middle',nameGap:115,nameRotate:90,nameTextStyle:nameTxt}));
  title.push({text:panelTitles[col],left:L+PW/2,top:titleTop[row],textAlign:'center',padding:0,
    textStyle:{fontFamily:FONT,fontSize:38.5,fontWeight:'normal',color:'#000'}});
});
captions.forEach((t,i)=>title.push({text:t,left:1520,top:captionCenterY[i]-36,textAlign:'center',padding:0,
  textStyle:{fontFamily:'"Liberation Serif"',fontSize:70,fontWeight:'normal',color:'#000'}}));

const chart=echarts.init(document.getElementById('c'),null,{renderer:'canvas'});
chart.setOption({animation:false,backgroundColor:'#fff',title,grid,xAxis,yAxis,visualMap,series,
  graphic:{elements:[{type:'polyline',silent:true,shape:{points:[[70,60],[80,59],[88,58],[96,60],[103,59]],smooth:0.4},style:{stroke:'#333',lineWidth:1.5,fill:null}}]}});
</script></body></html>
